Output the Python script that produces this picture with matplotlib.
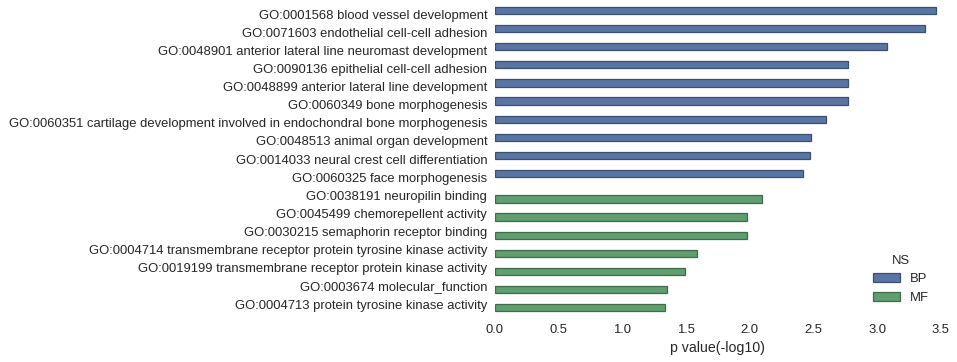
import numpy as np
import matplotlib.pyplot as plt

# GO terms, top to bottom
terms = [
    "GO:0001568 blood vessel development",
    "GO:0071603 endothelial cell-cell adhesion",
    "GO:0048901 anterior lateral line neuromast development",
    "GO:0090136 epithelial cell-cell adhesion",
    "GO:0048899 anterior lateral line development",
    "GO:0060349 bone morphogenesis",
    "GO:0060351 cartilage development involved in endochondral bone morphogenesis",
    "GO:0048513 animal organ development",
    "GO:0014033 neural crest cell differentiation",
    "GO:0060325 face morphogenesis",
    "GO:0038191 neuropilin binding",
    "GO:0045499 chemorepellent activity",
    "GO:0030215 semaphorin receptor binding",
    "GO:0004714 transmembrane receptor protein tyrosine kinase activity",
    "GO:0019199 transmembrane receptor protein kinase activity",
    "GO:0003674 molecular_function",
    "GO:0004713 protein tyrosine kinase activity",
]
ns = ["BP"] * 10 + ["MF"] * 7
pval = [3.46, 3.375, 3.077, 2.771, 2.771, 2.771, 2.598, 2.48, 2.472, 2.418,
        2.096, 1.978, 1.978, 1.586, 1.494, 1.35, 1.334]

groups = ["BP", "MF"]
colors = {"BP": "#5975a4", "MF": "#5f9e6e"}
edges = {"BP": "#3a4f72", "MF": "#3f6b49"}


def main():
    plt.rcParams['font.family'] = ['Liberation Sans', 'DejaVu Sans']
    plt.rcParams['text.color'] = '.15'
    plt.rcParams['axes.labelcolor'] = '.15'
    plt.rcParams['xtick.color'] = '.15'
    plt.rcParams['ytick.color'] = '.15'

    fig = plt.figure(figsize=(9.57, 3.62), dpi=100)
    ax = fig.add_axes([0.517, 0.135, 0.466, 0.851])

    y = np.arange(len(terms))
    vals = np.array(pval)
    cats = np.array(ns)
    width = 0.4
    for k, g in enumerate(groups):
        off = -width / 2 + k * width
        m = cats == g
        ax.barh(y[m] + off, vals[m], height=width, color=colors[g],
                edgecolor=edges[g], linewidth=0.9, label=g)

    ax.set_xlim(0, 3.5)
    ax.set_ylim(len(terms) - 0.5, -0.5)
    ax.set_yticks(y)
    ax.set_yticklabels(terms, fontsize=9.4)
    ax.set_xticks(np.arange(0, 3.51, 0.5))
    ax.tick_params(axis='x', labelsize=9.4, length=0, pad=7.5)
    ax.tick_params(axis='y', length=0, pad=5.5)
    ax.set_xlabel("p value(-log10)", fontsize=10.2, labelpad=4)
    for s in ax.spines.values():
        s.set_visible(False)

    ax.legend(title="NS", loc='lower right', frameon=False,
              fontsize=9.4, title_fontsize=9.4,
              bbox_to_anchor=(1.0, -0.008))

    fig.savefig('out.png', dpi=100)
    plt.close()


if __name__ == "__main__":
    main()
